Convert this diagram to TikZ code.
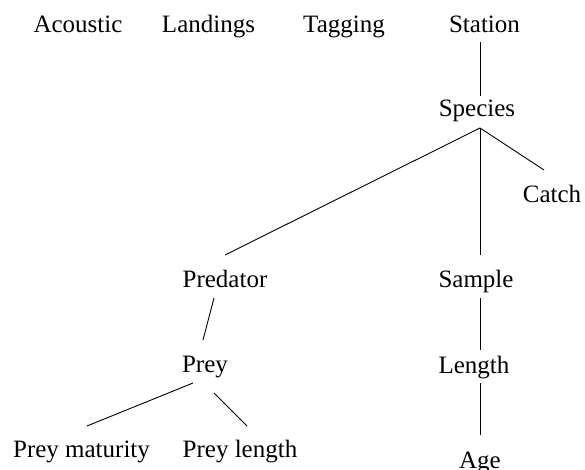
\documentclass[tikz,border=0pt]{standalone}
\usepackage{fontspec}
\setmainfont{Liberation Serif}
\begin{document}
\begin{tikzpicture}[x=1pt,y=-1pt,
  lbl/.style={anchor=base,inner sep=0pt,font=\fontsize{25}{30}\selectfont},
  edge/.style={draw=black,line width=0.9pt}]
\useasboundingbox (0,0) rectangle (585,470);
\node[lbl] (acoustic) at (78,32.5) {Acoustic};
\node[lbl] (landings) at (208.5,32.5) {Landings};
\node[lbl] (tagging)  at (344,32.5) {Tagging};
\node[lbl] (station)  at (484.5,32.5) {Station};
\node[lbl] (species)  at (477,117) {Species};
\node[lbl] (catch)    at (552,202) {Catch};
\node[lbl] (predator) at (225,287) {Predator};
\node[lbl] (sample)   at (476,287) {Sample};
\node[lbl] (prey)     at (205,372) {Prey};
\node[lbl] (length)   at (474,373) {Length};
\node[lbl] (preymat)  at (81.5,457) {Prey maturity};
\node[lbl] (preylen)  at (240,457) {Prey length};
\node[lbl] (age)      at (480,468.5) {Age};
\path[edge] ([xshift=-4.5pt,yshift=-10pt]station.base) -- ([xshift=3pt,yshift=21pt]species.base);
\path[edge] ([xshift=3pt,yshift=-11pt]species.base) -- ([xshift=0pt,yshift=32pt]predator.base);
\path[edge] ([xshift=3pt,yshift=-11pt]species.base) -- ([xshift=4pt,yshift=32pt]sample.base);
\path[edge] ([xshift=3pt,yshift=-11pt]species.base) -- ([xshift=-8pt,yshift=32pt]catch.base);
\path[edge] ([xshift=-11pt,yshift=-11pt]predator.base) -- ([xshift=-2pt,yshift=32pt]prey.base);
\path[edge] ([xshift=4pt,yshift=-11pt]sample.base) -- ([xshift=6pt,yshift=23pt]length.base);
\path[edge] ([xshift=6pt,yshift=-10pt]length.base) -- ([xshift=0pt,yshift=33.5pt]age.base);
\path[edge] ([xshift=-12pt,yshift=-11pt]prey.base) -- ([xshift=5.5pt,yshift=31pt]preymat.base);
\path[edge] ([xshift=9pt,yshift=-21pt]prey.base) -- ([xshift=7pt,yshift=31pt]preylen.base);
\end{tikzpicture}
\end{document}
